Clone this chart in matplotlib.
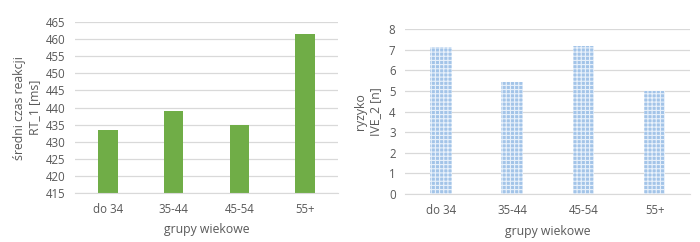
import matplotlib
matplotlib.use("Agg")
import matplotlib.pyplot as plt

categories = ["do 34", "35-44", "45-54", "55+"]
rt_values = [433.5, 438.9, 434.9, 461.4]
ive_values = [7.11, 5.44, 7.16, 5.02]
rt_ticks = [415, 420, 425, 430, 435, 440, 445, 450, 455, 460, 465]
ive_ticks = [0, 1, 2, 3, 4, 5, 6, 7, 8]

plt.rcParams['font.family'] = ['Open Sans', 'DejaVu Sans']
plt.rcParams['hatch.color'] = '#e8f1fb'
plt.rcParams['hatch.linewidth'] = 0.8

txt = '#595959'
grid = '#d9d9d9'
fig = plt.figure(figsize=(7, 2.42), dpi=100)

def style(ax):
    for s in ['top', 'right', 'left']:
        ax.spines[s].set_visible(False)
    ax.spines['bottom'].set_color(grid)
    ax.tick_params(length=0, colors=txt, labelsize=8.3)
    ax.tick_params(axis='y', pad=7)
    ax.tick_params(axis='x', pad=7)
    ax.yaxis.grid(True, color=grid, lw=0.9)
    ax.set_axisbelow(True)

ax1 = fig.add_axes([0.107, 0.2025, 0.376, 0.7065])
x = range(len(categories))
ax1.bar(x, [v - rt_ticks[0] for v in rt_values], bottom=rt_ticks[0], width=0.3, color='#70ad47')
ax1.set_ylim(rt_ticks[0], rt_ticks[-1])
ax1.set_yticks(rt_ticks)
ax1.set_xlim(-0.5, 3.5)
ax1.set_xticks(list(x))
ax1.set_xticklabels(categories)
style(ax1)
ax1.set_xlabel("grupy wiekowe", color=txt, fontsize=8.8, labelpad=5)
ax1.set_ylabel("średni czas reakcji\nRT_1 [ms]", color=txt, fontsize=8.8, labelpad=3)

ax2 = fig.add_axes([0.579, 0.198, 0.407, 0.682])
ax2.bar(x, ive_values, width=0.3, color='#a3c4e8', hatch='++++', lw=0)
ax2.set_ylim(ive_ticks[0], ive_ticks[-1])
ax2.set_yticks(ive_ticks)
ax2.set_xlim(-0.5, 3.5)
ax2.set_xticks(list(x))
ax2.set_xticklabels(categories)
style(ax2)
ax2.set_xlabel("grupy wiekowe", color=txt, fontsize=8.8, labelpad=6)
ax2.set_ylabel("ryzyko\nIVE_2 [n]", color=txt, fontsize=8.8, labelpad=5)

fig.savefig("out.png", dpi=100)
